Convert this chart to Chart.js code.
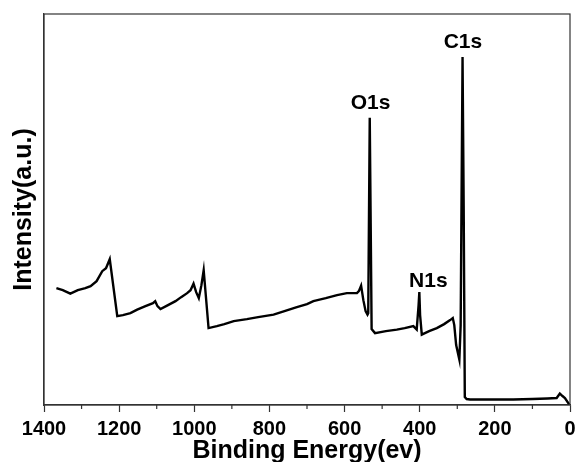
<!DOCTYPE html>
<html>
<head>
<meta charset="utf-8">
<script src="https://cdn.jsdelivr.net/npm/chart.js@4.4.0/dist/chart.umd.min.js"></script>
<style>
  html, body { margin: 0; padding: 0; background: #fff; }
  #wrap { width: 575px; height: 462px; }
</style>
</head>
<body>
<div id="wrap"><canvas id="myChart" width="575" height="462"></canvas></div>
<script>
// XPS survey (binding energy in eV, intensity in a.u.)
var energy = [1367, 1350, 1330, 1310, 1290, 1276, 1260, 1245, 1235, 1225,
  1205, 1190, 1170, 1152, 1130, 1110, 1104, 1098, 1090, 1070, 1050, 1035, 1019, 1010, 1002,
  995, 988, 981, 975, 962, 940, 920, 895, 860, 830, 789, 760, 727, 700, 683, 650, 620,
  594, 567, 562, 556, 550, 544, 539, 537, 533, 528, 519, 490, 461, 440, 417, 408, 403,
  401, 399, 394.5, 375, 354.5, 335, 319, 312, 308, 303, 294.5, 291, 286, 283, 280, 275,
  266, 200, 151, 100, 60, 35.5, 27, 20, 13.5, 2];
var intensity = [117, 115, 111.5, 115, 117, 119, 124, 134, 137, 146,
  89, 90, 92, 95.5, 99, 102, 104, 99, 96, 100, 104, 108, 112, 115, 121.5,
  113, 107, 120, 135, 77, 79, 81, 84, 86, 88, 90.5, 94, 98, 101, 104, 107, 110,
  112, 112, 114, 119.5, 105, 94, 90.5, 92, 287.5, 76, 72, 74, 75.5, 77, 79, 75.5, 100,
  113, 90, 70.5, 74, 77, 81, 85, 87, 80, 60, 45.5, 80, 348.5, 200, 8, 6,
  5.5, 5.5, 5.5, 6, 6.5, 7, 11.5, 9, 7, 0.5];

var peakNames = ['C1s', 'O1s', 'N1s'];
var peakLabelE = [285, 531, 377];
var peakLabelI = [363.5, 302.5, 123.5];

var xTicks = [1400, 1200, 1000, 800, 600, 400, 200, 0];
var xMinorTicks = [1300, 1100, 900, 700, 500, 300, 100];

var points = energy.map(function (e, i) { return { x: e, y: intensity[i] }; });
var font = 'Liberation Sans, Arial, sans-serif';

// box round the plot, minor ticks and the peak names
var extras = {
  id: 'extras',
  afterDraw: function (chart) {
    var c = chart.ctx, a = chart.chartArea;
    var xs = chart.scales.x, ys = chart.scales.y;
    c.save();
    c.strokeStyle = '#333';
    c.lineWidth = 1.2;
    c.strokeRect(a.left, a.top, a.right - a.left, a.bottom - a.top);
    c.beginPath();
    xMinorTicks.forEach(function (v) {
      var px = xs.getPixelForValue(v);
      c.moveTo(px, a.bottom);
      c.lineTo(px, a.bottom + 4);
    });
    c.stroke();
    c.fillStyle = '#000';
    c.font = 'bold 21px ' + font;
    c.textAlign = 'center';
    c.textBaseline = 'middle';
    peakNames.forEach(function (n, i) {
      c.fillText(n, xs.getPixelForValue(peakLabelE[i]), ys.getPixelForValue(peakLabelI[i]));
    });
    c.restore();
  }
};

var ctx = document.getElementById('myChart').getContext('2d');
var myChart = new Chart(ctx, {
  type: 'scatter',
  data: {
    datasets: [{
      data: points,
      showLine: true,
      borderColor: '#000',
      borderWidth: 2.4,
      pointRadius: 0,
      tension: 0
    }]
  },
  options: {
    responsive: false,
    animation: false,
    layout: { padding: { top: 14, right: 5, left: 0, bottom: 0 } },
    plugins: { legend: { display: false }, tooltip: { enabled: false } },
    scales: {
      x: {
        type: 'linear',
        reverse: true,
        min: 0,
        max: 1400,
        afterFit: function (s) { s.height = 57; s.paddingLeft = 0; s.paddingRight = 0; },
        afterBuildTicks: function (s) { s.ticks = xTicks.map(function (v) { return { value: v }; }); },
        grid: { display: true, drawOnChartArea: false, tickLength: 7, color: '#333', tickWidth: 1.2 },
        border: { display: true, color: '#333', width: 1.2 },
        ticks: { color: '#000', font: { family: font, size: 20, weight: 'bold' }, padding: 5, maxRotation: 0, autoSkip: false,
          callback: function (v) { return String(v); } },
        title: { display: true, text: 'Binding Energy(ev)', color: '#000',
          font: { family: font, size: 25, weight: 'bold', lineHeight: 1 }, padding: { top: 0, bottom: -2 } }
      },
      y: {
        min: 0,
        max: 391.5,
        afterFit: function (s) { s.width = 44; },
        grid: { display: false },
        border: { display: true, color: '#333', width: 1.2 },
        ticks: { display: false },
        title: { display: true, text: 'Intensity(a.u.)', color: '#000',
          font: { family: font, size: 25, weight: 'bold' }, padding: { top: 9, bottom: 0 } }
      }
    }
  },
  plugins: [extras]
});
</script>
</body>
</html>
